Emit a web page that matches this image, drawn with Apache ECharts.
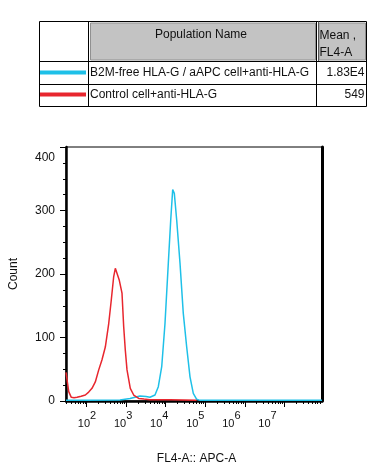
<!DOCTYPE html>
<html>
<head>
<meta charset="utf-8">
<script src="https://cdn.jsdelivr.net/npm/echarts@6/dist/echarts.min.js"></script>
<style>
html,body{margin:0;padding:0;background:#fff;}
#c{width:381px;height:472px;}
</style>
</head>
<body>
<div id="c"></div>
<script>
// ---- data (x in log10 of FL4-A fluorescence, y = count) ----
var redLogFL4 = [1.476,1.50,1.545,1.61,1.68,1.755,1.86,1.965,2.05,2.134,2.218,2.304,2.387,2.471,2.557,2.622,2.683,2.724,2.767,2.825,2.893,2.936,2.977,3.02,3.103,3.189,3.316,3.45,3.60,3.85,4.108,4.45,4.78];
var redCount  = [45,43.6,14.7,5.8,5,5.8,7.5,9.4,14,20,30,49,65,85,122,159,196,209,206,190,170,117,80,49,20,9.4,4,3,2,2,2,1.5,1];
var blueLogFL4 = [1.476,2.0,2.843,3.096,3.349,3.50,3.60,3.728,3.812,3.898,3.981,4.065,4.126,4.176,4.217,4.277,4.361,4.444,4.53,4.614,4.697,4.783,4.867,5.5,6.5,7.954];
var blueCount  = [1,1,1.6,4,8,7,6,9.4,22.5,54,122,217,285,333,327,285,217,138,85,38,12,2.7,1,1,1,1];
var decades = [2,3,4,5,6,7];
var yTicks = [0,100,200,300,400];
var legendNames = ['B2M-free HLA-G / aAPC cell+anti-HLA-G','Control cell+anti-HLA-G'];
var legendMeans = ['1.83E4','549'];
var legendColors = ['#1ec0e8','#e8262e'];

var FONT = '"Liberation Sans", Arial, sans-serif';
var XMIN = 1.476, XMAX = 7.954;
var LXMIN = 1.4183, LXMAX = 8.510;

function zip(a,b){ return a.map(function(v,i){ return [v,b[i]]; }); }

var minorTicks = [];
for (var d = 1; d <= 7; d++) {
  for (var k = 2; k <= 9; k++) {
    var v = d + Math.log10(k);
    if (v > XMIN && v < XMAX) minorTicks.push(v);
  }
}

var chart = echarts.init(document.getElementById('c'), null, {renderer:'canvas'});

var tableGraphics = [
  {type:'rect', shape:{x:90.5,y:23,width:225,height:37}, style:{fill:'#c3c3c3', stroke:'#909090', lineWidth:1}},
  {type:'rect', shape:{x:319,y:23,width:46.5,height:37}, style:{fill:'#c3c3c3', stroke:'#909090', lineWidth:1}},
  {type:'rect', shape:{x:39.5,y:21.5,width:327,height:85}, style:{fill:'none', stroke:'#000', lineWidth:1}},
  {type:'line', shape:{x1:88.5,y1:21.5,x2:88.5,y2:106.5}, style:{stroke:'#000', lineWidth:1}},
  {type:'line', shape:{x1:316.5,y1:21.5,x2:316.5,y2:106.5}, style:{stroke:'#000', lineWidth:1}},
  {type:'line', shape:{x1:318.5,y1:21.5,x2:318.5,y2:61.5}, style:{stroke:'#555', lineWidth:1}},
  {type:'line', shape:{x1:39.5,y1:61.5,x2:366.5,y2:61.5}, style:{stroke:'#000', lineWidth:1}},
  {type:'line', shape:{x1:39.5,y1:84.5,x2:366.5,y2:84.5}, style:{stroke:'#000', lineWidth:1}},
  {type:'text', x:201, y:35, style:{text:'Population Name', font:'12px '+FONT, fill:'#111', align:'center', verticalAlign:'middle'}},
  {type:'text', x:319.5, y:36, style:{text:'Mean ,', font:'12px '+FONT, fill:'#111', align:'left', verticalAlign:'middle'}},
  {type:'text', x:319.5, y:53, style:{text:'FL4-A', font:'12px '+FONT, fill:'#111', align:'left', verticalAlign:'middle'}}
];
var rowY = [72.5, 94.5];
for (var r = 0; r < legendNames.length; r++) {
  tableGraphics.push({type:'rect', shape:{x:40,y:rowY[r]-2,width:46,height:4}, style:{fill:legendColors[r]}});
  tableGraphics.push({type:'text', x:90, y:rowY[r], style:{text:legendNames[r], font:'12px '+FONT, fill:'#111', align:'left', verticalAlign:'middle'}});
  tableGraphics.push({type:'text', x:364.5, y:rowY[r], style:{text:legendMeans[r], font:'12px '+FONT, fill:'#111', align:'right', verticalAlign:'middle'}});
}

var option = {
  backgroundColor:'#fff',
  animation:false,
  grid:{left:66, right:59, top:147, bottom:71, show:true, borderColor:'#000', borderWidth:1, outerBoundsMode:'none', containLabel:false},
  xAxis:[
    {type:'value', min:XMIN, max:XMAX, position:'bottom',
     axisLine:{show:true, lineStyle:{color:'#000', width:2.5}},
     axisTick:{show:true, customValues:decades, length:6, lineStyle:{color:'#000', width:1}},
     axisLabel:{show:false}, splitLine:{show:false},
     name:'FL4-A:: APC-A', nameLocation:'middle', nameGap:52,
     nameTextStyle:{fontFamily:FONT, fontSize:12, color:'#111', padding:[0,0,0,5]}},
    {type:'value', min:XMIN, max:XMAX, position:'bottom',
     axisLine:{show:false},
     axisTick:{show:true, customValues:minorTicks, length:3, lineStyle:{color:'#000', width:1}},
     axisLabel:{show:false}, splitLine:{show:false}},
    {type:'value', min:LXMIN, max:LXMAX, position:'bottom',
     axisLine:{show:false}, axisTick:{show:false}, splitLine:{show:false},
     axisLabel:{show:true, customValues:decades, margin:12, hideOverlap:false,
       formatter:function(v){ return '{s|' + Math.round(v) + '}\n{b|10}'; },
       rich:{
         s:{fontFamily:FONT, fontSize:11, color:'#111', lineHeight:5, padding:[0,0,0,12.2]},
         b:{fontFamily:FONT, fontSize:11, color:'#111', lineHeight:11, padding:[0,6.1,0,0]}
       }}}
  ],
  yAxis:[
    {type:'value', min:0, max:400, interval:100, position:'left',
     axisLine:{show:true, lineStyle:{color:'#000', width:2.5}},
     axisTick:{show:true, length:6, lineStyle:{color:'#000', width:1}},
     minorTick:{show:true, splitNumber:4, length:3, lineStyle:{color:'#000', width:1}},
     splitLine:{show:false},
     axisLabel:{show:true, margin:11, fontFamily:FONT, fontSize:12, color:'#111',
       customValues:yTicks,
       formatter:function(v){ return v === 400 ? '{t|400}' : String(v); },
       rich:{t:{fontFamily:FONT, fontSize:12, color:'#111', padding:[22,0,0,0]}}},
     name:'Count', nameLocation:'middle', nameGap:46, nameRotate:90,
     nameTextStyle:{fontFamily:FONT, fontSize:12, color:'#111'}},
    {type:'value', min:0, max:400, position:'right',
     axisLine:{show:true, lineStyle:{color:'#000', width:3}},
     axisTick:{show:false}, axisLabel:{show:false}, splitLine:{show:false}}
  ],
  series:[
    {type:'line', xAxisIndex:0, yAxisIndex:0, data:zip(blueLogFL4, blueCount), showSymbol:false, symbol:'none',
     lineStyle:{color:legendColors[0], width:1.5}, z:3},
    {type:'line', xAxisIndex:0, yAxisIndex:0, data:zip(redLogFL4, redCount), showSymbol:false, symbol:'none',
     lineStyle:{color:legendColors[1], width:1.5}, z:4}
  ],
  graphic:tableGraphics
};
chart.setOption(option);
</script>
</body>
</html>
